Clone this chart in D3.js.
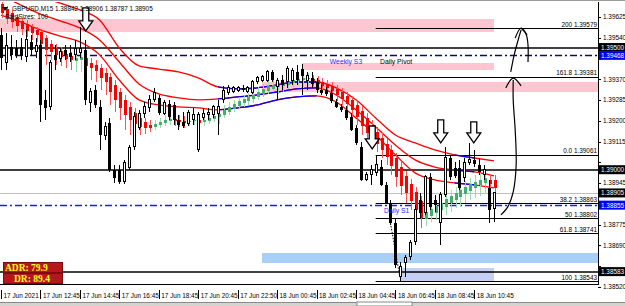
<!DOCTYPE html>
<html>
<head>
<meta charset="utf-8">
<script src="https://cdnjs.cloudflare.com/ajax/libs/d3/7.8.5/d3.min.js"></script>
<style>
  body { margin: 0; background: #fff; }
  svg { display: block; font-family: "Liberation Sans", Arial, sans-serif; }
</style>
</head>
<body>
<div id="chart"></div>
<script>
// ---- data: GBPUSD M15, one bar per index ----
const symbol = "GBPUSD,M15";
const stepSizes = 100;

const open = [
  1.39551,1.39437,1.39502,1.39498,1.39502,1.39465,1.39523,1.39482,1.39510,1.39286,
  1.39257,1.39470,1.39457,1.39490,1.39478,1.39470,1.39478,1.39490,1.39277,1.39326,
  1.39257,1.39142,1.39191,1.38999,1.38999,1.38950,1.39011,1.39093,1.39171,1.39232,
  1.39253,1.39286,1.39294,1.39232,1.39269,1.39265,1.39204,1.39196,1.39191,1.39204,
  1.39081,1.39212,1.39224,1.39224,1.39232,1.39286,1.39314,1.39322,1.39326,1.39335,
  1.39322,1.39318,1.39359,1.39367,1.39367,1.39400,1.39339,1.39367,1.39359,1.39367,
  1.39400,1.39412,1.39367,1.39376,1.39359,1.39326,1.39326,1.39314,1.39277,1.39257,
  1.39245,1.39216,1.39171,1.39093,1.38962,1.38979,1.38987,1.39011,1.38938,1.38864,
  1.38782,1.38562,1.38619,1.38643,1.38705,1.38877,1.38823,1.38971,1.38877,1.38782,
  1.38897,1.39048,1.39007,1.39007,1.38967,1.39028,1.39040,1.39020,1.38979,1.38926,
  1.38842];
const high = [
  1.39580,1.39560,1.39551,1.39531,1.39539,1.39572,1.39551,1.39539,1.39531,1.39326,
  1.39449,1.39510,1.39498,1.39510,1.39510,1.39531,1.39584,1.39531,1.39335,1.39347,
  1.39286,1.39196,1.39212,1.39020,1.39020,1.39040,1.39101,1.39236,1.39245,1.39277,
  1.39306,1.39335,1.39306,1.39286,1.39286,1.39277,1.39224,1.39236,1.39245,1.39253,
  1.39236,1.39253,1.39253,1.39265,1.39286,1.39343,1.39347,1.39343,1.39343,1.39347,
  1.39343,1.39367,1.39384,1.39388,1.39408,1.39408,1.39376,1.39388,1.39425,1.39416,
  1.39429,1.39433,1.39400,1.39400,1.39376,1.39347,1.39339,1.39326,1.39290,1.39269,
  1.39261,1.39232,1.39183,1.39114,1.38991,1.39020,1.39061,1.39040,1.38950,1.38877,
  1.38803,1.38623,1.38652,1.38713,1.38856,1.38905,1.38979,1.38987,1.38897,1.38909,
  1.39093,1.39061,1.39032,1.39040,1.39048,1.39110,1.39081,1.39048,1.39020,1.38958,
  1.38906];
const low = [
  1.39408,1.39408,1.39449,1.39457,1.39449,1.39441,1.39470,1.39457,1.39196,1.39204,
  1.39245,1.39408,1.39441,1.39449,1.39441,1.39449,1.39457,1.39265,1.39236,1.39253,
  1.39081,1.39122,1.38991,1.38946,1.38942,1.38942,1.38999,1.39081,1.39163,1.39212,
  1.39236,1.39277,1.39224,1.39224,1.39204,1.39183,1.39163,1.39171,1.39179,1.39183,
  1.39073,1.39204,1.39204,1.39212,1.39142,1.39273,1.39306,1.39314,1.39318,1.39318,
  1.39314,1.39310,1.39351,1.39359,1.39359,1.39359,1.39286,1.39326,1.39335,1.39347,
  1.39347,1.39306,1.39326,1.39335,1.39314,1.39306,1.39302,1.39273,1.39253,1.39236,
  1.39204,1.39159,1.39101,1.38954,1.38954,1.38938,1.38975,1.38934,1.38860,1.38774,
  1.38598,1.38543,1.38562,1.38631,1.38692,1.38803,1.38815,1.38836,1.38827,1.38692,
  1.38889,1.38958,1.38967,1.38917,1.38950,1.39020,1.39011,1.38979,1.38958,1.38782,
  1.38787];
const close = [
  1.39457,1.39510,1.39470,1.39470,1.39465,1.39531,1.39490,1.39510,1.39265,1.39253,
  1.39437,1.39449,1.39482,1.39470,1.39461,1.39498,1.39498,1.39286,1.39322,1.39265,
  1.39142,1.39175,1.38999,1.38967,1.38950,1.39028,1.39089,1.39216,1.39232,1.39257,
  1.39286,1.39318,1.39232,1.39277,1.39216,1.39204,1.39183,1.39179,1.39236,1.39224,
  1.39224,1.39232,1.39236,1.39257,1.39257,1.39326,1.39335,1.39335,1.39335,1.39326,
  1.39335,1.39359,1.39376,1.39380,1.39400,1.39367,1.39367,1.39347,1.39416,1.39408,
  1.39367,1.39384,1.39384,1.39351,1.39326,1.39314,1.39310,1.39281,1.39257,1.39245,
  1.39212,1.39163,1.39110,1.38958,1.38979,1.38999,1.39020,1.38938,1.38864,1.38782,
  1.38611,1.38602,1.38639,1.38701,1.38836,1.38823,1.38971,1.38848,1.38856,1.38897,
  1.39048,1.38971,1.38975,1.38926,1.39028,1.39040,1.39024,1.38991,1.38999,1.38836,
  1.38905];

// smoothed heiken ashi overlay (red / green bars)
const haOpen = [
  1.39678,1.39658,1.39641,1.39625,1.39609,1.39596,1.39584,1.39572,1.39564,1.39539,
  1.39515,1.39498,1.39486,1.39474,1.39465,1.39445,1.39449,1.39457,1.39437,1.39429,
  1.39416,1.39396,1.39380,1.39347,1.39318,1.39286,1.39257,1.39232,1.39212,1.39196,
  1.39183,1.39175,1.39183,1.39191,1.39200,1.39208,1.39204,1.39200,1.39196,1.39200,
  1.39204,1.39196,1.39200,1.39208,1.39216,1.39224,1.39236,1.39249,1.39261,1.39273,
  1.39281,1.39290,1.39298,1.39310,1.39322,1.39331,1.39339,1.39343,1.39347,1.39355,
  1.39363,1.39367,1.39371,1.39371,1.39367,1.39359,1.39351,1.39343,1.39331,1.39318,
  1.39302,1.39286,1.39265,1.39241,1.39212,1.39179,1.39155,1.39130,1.39106,1.39081,
  1.39048,1.39011,1.38975,1.38942,1.38909,1.38872,1.38799,1.38811,1.38823,1.38836,
  1.38848,1.38864,1.38877,1.38889,1.38901,1.38913,1.38926,1.38938,1.38946,1.38958,
  1.38958];
const haClose = [
  1.39641,1.39621,1.39605,1.39588,1.39576,1.39568,1.39560,1.39551,1.39515,1.39490,
  1.39482,1.39470,1.39461,1.39453,1.39449,1.39457,1.39461,1.39425,1.39416,1.39404,
  1.39376,1.39359,1.39318,1.39286,1.39253,1.39224,1.39204,1.39187,1.39175,1.39171,
  1.39171,1.39187,1.39196,1.39204,1.39208,1.39200,1.39196,1.39191,1.39200,1.39204,
  1.39191,1.39204,1.39212,1.39220,1.39228,1.39245,1.39257,1.39269,1.39281,1.39290,
  1.39298,1.39306,1.39318,1.39331,1.39343,1.39347,1.39347,1.39351,1.39363,1.39367,
  1.39371,1.39376,1.39376,1.39363,1.39351,1.39343,1.39335,1.39322,1.39306,1.39290,
  1.39269,1.39245,1.39216,1.39179,1.39151,1.39126,1.39106,1.39081,1.39052,1.39016,
  1.38971,1.38934,1.38905,1.38872,1.38836,1.38803,1.38827,1.38840,1.38852,1.38864,
  1.38881,1.38893,1.38905,1.38917,1.38930,1.38942,1.38950,1.38958,1.38967,1.38942,
  1.38926];
const haHigh = [
  1.39686,1.39670,1.39654,1.39637,1.39621,1.39613,1.39596,1.39584,1.39576,1.39551,
  1.39531,1.39515,1.39502,1.39490,1.39482,1.39474,1.39482,1.39470,1.39457,1.39449,
  1.39433,1.39416,1.39396,1.39367,1.39335,1.39306,1.39277,1.39253,1.39232,1.39212,
  1.39204,1.39204,1.39212,1.39224,1.39228,1.39228,1.39224,1.39220,1.39220,1.39224,
  1.39228,1.39220,1.39228,1.39236,1.39245,1.39265,1.39277,1.39286,1.39298,1.39306,
  1.39314,1.39326,1.39339,1.39351,1.39363,1.39367,1.39367,1.39371,1.39384,1.39392,
  1.39396,1.39400,1.39396,1.39388,1.39384,1.39376,1.39367,1.39359,1.39347,1.39335,
  1.39318,1.39302,1.39286,1.39261,1.39232,1.39204,1.39175,1.39151,1.39126,1.39101,
  1.39069,1.39032,1.38995,1.38962,1.38930,1.38893,1.38856,1.38864,1.38877,1.38889,
  1.38905,1.38917,1.38930,1.38942,1.38954,1.38967,1.38979,1.38987,1.38995,1.38979,
  1.38979];
const haLow = [
  1.39621,1.39596,1.39580,1.39564,1.39551,1.39543,1.39531,1.39523,1.39449,1.39429,
  1.39449,1.39429,1.39425,1.39416,1.39408,1.39400,1.39400,1.39376,1.39367,1.39359,
  1.39326,1.39306,1.39265,1.39236,1.39204,1.39163,1.39142,1.39151,1.39142,1.39146,
  1.39155,1.39163,1.39171,1.39179,1.39183,1.39179,1.39175,1.39171,1.39179,1.39183,
  1.39163,1.39179,1.39187,1.39196,1.39187,1.39212,1.39224,1.39236,1.39249,1.39257,
  1.39265,1.39273,1.39286,1.39298,1.39310,1.39318,1.39310,1.39318,1.39331,1.39339,
  1.39343,1.39335,1.39343,1.39343,1.39326,1.39318,1.39310,1.39298,1.39281,1.39265,
  1.39245,1.39212,1.39183,1.39142,1.39114,1.39089,1.39073,1.39048,1.39020,1.38979,
  1.38930,1.38897,1.38864,1.38836,1.38794,1.38762,1.38770,1.38787,1.38794,1.38803,
  1.38815,1.38827,1.38844,1.38852,1.38864,1.38877,1.38885,1.38893,1.38901,1.38893,
  1.38893];

// moving-average channel, read at every 4th bar
const chanBars  = [0,4,8,12,16,20,24,28,32,36,40,44,48,52,56,60,64,68,72,76,80,84,88,92,96,100];
const chanUpper = [1.39797,1.39744,1.39707,1.39682,1.39654,1.39613,1.39498,1.39425,1.39412,1.39400,1.39376,1.39339,1.39331,
                   1.39335,1.39347,1.39359,1.39359,1.39335,1.39286,1.39212,1.39142,1.39110,1.39081,1.39061,1.39048,1.39036];
const chanMid   = [1.39715,1.39674,1.39637,1.39609,1.39580,1.39531,1.39441,1.39351,1.39310,1.39294,1.39286,1.39290,1.39298,
                   1.39306,1.39318,1.39331,1.39335,1.39306,1.39245,1.39175,1.39101,1.39040,1.39011,1.38999,1.38991,1.38975];
const chanLower = [1.39633,1.39605,1.39572,1.39547,1.39523,1.39470,1.39367,1.39286,1.39265,1.39257,1.39253,1.39245,1.39253,
                   1.39265,1.39286,1.39298,1.39302,1.39277,1.39212,1.39142,1.39061,1.38987,1.38958,1.38946,1.38938,1.38926];
const chanUpRanges = [[44, 64], [92, 96]];

// axes
const timeTickBars = [0, 8, 16, 24, 32, 40, 48, 56, 64, 72, 80, 88, 96];
const timeLabels = ["17 Jun 2021", "17 Jun 12:45", "17 Jun 14:45", "17 Jun 16:45", "17 Jun 18:45",
  "17 Jun 20:45", "17 Jun 22:50", "18 Jun 00:45", "18 Jun 02:45", "18 Jun 04:45",
  "18 Jun 06:45", "18 Jun 08:45", "18 Jun 10:45"];
const priceTicks = [1.39625, 1.39540, 1.39455, 1.39370, 1.39285, 1.39200, 1.39115,
  1.39030, 1.38945, 1.38860, 1.38775, 1.38690, 1.38605, 1.38520];

// fibonacci from swing high (bar 76) to swing low (bar 81)
const fibStartBar = 76;
const fibLevels = ["0.0", "38.2", "50", "61.8", "100", "161.8", "200"];
const fibPrices = [1.39061, 1.38863, 1.38802, 1.38741, 1.38543, 1.39381, 1.39579];

// horizontal levels
const levelPrices = [1.39500, 1.39000, 1.38583];
const pivotPrices = [1.39468, 1.38855];
const pivotNames = [["Weekly S3", "Daily Pivot"], ["Daily S1"]];

// supply / demand zones: bar range and price range
const zones = [
  {kind: "supply", from: -1, to: 100, top: 1.39617, bottom: 1.39564},
  {kind: "supply", from: 61, to: 100, top: 1.39437, bottom: 1.39408},
  {kind: "supply", from: 53, to: 122, top: 1.39359, bottom: 1.39318},
  {kind: "demand", from: 53, to: 122, top: 1.38660, bottom: 1.38619},
  {kind: "demandLow", from: 81, to: 100, top: 1.38598, bottom: 1.38545}
];

// hand-drawn annotations (bar, price)
const downArrows = [
  {bar: 17.2, top: 1.39662, tip: 1.39568},
  {bar: 75.3, top: 1.39179, tip: 1.39085},
  {bar: 89.2, top: 1.39204, tip: 1.39110},
  {bar: 95.9, top: 1.39196, tip: 1.39110}
];
const sketchStrokes = [
  [[101.4,1.38815],[102.8,1.38848],[103.9,1.38909],[104.5,1.39020],[104.3,1.39163],[103.9,1.39286],[103.9,1.39367]],
  [[102.4,1.39335],[103.9,1.39375],[105.5,1.39343]],
  [[103.4,1.39400],[104.1,1.39470],[104.9,1.39531],[105.5,1.39572]],
  [[104.3,1.39539],[105.5,1.39580],[106.7,1.39551]],
  [[105.5,1.39580],[106.5,1.39555],[106.9,1.39511],[106.9,1.39441]]
];
const dottedLine = [[78.9, 1.38794], [80.9, 1.38562]];

const adr = 79.9, dr = 89.4;

// ---- layout ----
const W = 625, H = 306;
const plotRight = 598, plotTop = 2, plotBottom = 284;

const x = d3.scaleLinear().domain([0, 121.1]).range([1, plotRight]);
const y = d3.scaleLinear().domain([1.38520, 1.39625]).range([287, 17]);
const px = v => Math.round(v);
const crisp = v => Math.round(v) + 0.5;

const svg = d3.select("#chart").append("svg")
    .attr("width", W)
    .attr("height", H);

svg.append("rect").attr("width", W).attr("height", H).attr("fill", "#fff");

const defs = svg.append("defs");
defs.append("clipPath").attr("id", "plot")
    .append("rect")
    .attr("x", 0).attr("y", plotTop)
    .attr("width", plotRight).attr("height", plotBottom - plotTop);

// clip for the up-trend (blue) parts of the channel
defs.append("clipPath").attr("id", "upClip")
    .selectAll("rect")
    .data(chanUpRanges).enter()
    .append("rect")
    .attr("x", d => x(d[0]))
    .attr("width", d => x(d[1]) - x(d[0]))
    .attr("y", 0).attr("height", H);

const chart = svg.append("g").attr("clip-path", "url(#plot)");

// zones
const zoneFill = {supply: "#ffc6d2", demand: "#a8d0f6", demandLow: "#c6cff4"};
chart.append("g")
    .selectAll("rect")
    .data(zones).enter()
    .append("rect")
    .attr("x", d => px(x(d.from)))
    .attr("width", d => px(x(d.to)) - px(x(d.from)))
    .attr("y", d => px(y(d.top)))
    .attr("height", d => px(y(d.bottom)) - px(y(d.top)))
    .attr("fill", d => zoneFill[d.kind]);

// ADR box sits under the level lines
const adrG = svg.append("g");
[["ADR: " + adr.toFixed(1), 262, 5], ["DR: " + dr.toFixed(1), 273, 14]].forEach(([t, top, tx]) => {
    adrG.append("rect")
        .attr("x", 3.5).attr("y", top + 0.5)
        .attr("width", 59).attr("height", 10)
        .attr("fill", "#b5171c").attr("stroke", "#7a0d10");
    adrG.append("text")
        .attr("x", tx).attr("y", top + 9)
        .attr("font-family", "'Liberation Serif', 'DejaVu Serif', serif")
        .attr("font-weight", "bold")
        .attr("font-size", 9.5)
        .attr("fill", "#ffff20")
        .text(t);
});

// bid line
chart.append("line")
    .attr("x1", 0).attr("x2", plotRight)
    .attr("y1", crisp(y(close[close.length - 1]))).attr("y2", crisp(y(close[close.length - 1])))
    .attr("stroke", "#c0c0c0");

// fib lines
chart.append("g")
    .selectAll("line")
    .data(fibPrices).enter()
    .append("line")
    .attr("x1", x(fibStartBar)).attr("x2", plotRight)
    .attr("y1", d => crisp(y(d))).attr("y2", d => crisp(y(d)))
    .attr("stroke", "#000").attr("stroke-width", 1.2);

// level lines
chart.append("g")
    .selectAll("line")
    .data(levelPrices).enter()
    .append("line")
    .attr("x1", 0).attr("x2", plotRight)
    .attr("y1", d => px(y(d))).attr("y2", d => px(y(d)))
    .attr("stroke", "#000").attr("stroke-width", 1.6);

// pivot lines (dash-dot)
chart.append("g")
    .selectAll("line")
    .data(pivotPrices).enter()
    .append("line")
    .attr("x1", 0).attr("x2", plotRight)
    .attr("y1", d => crisp(y(d))).attr("y2", d => crisp(y(d)))
    .attr("stroke", (d, i) => i === 0 ? "#0a0a60" : "#1a1aff")
    .attr("stroke-width", 1.3)
    .attr("stroke-dasharray", "7,3,2,3");

// channel lines
const chanPath = vals => d3.line()
    .x((d, i) => x(chanBars[i]))
    .y(d => y(d))
    .curve(d3.curveMonotoneX)(vals);
const chanG = chart.append("g").attr("fill", "none").attr("stroke-width", 1.3);
[chanUpper, chanMid, chanLower].forEach(vals => {
    chanG.append("path").attr("d", chanPath(vals)).attr("stroke", "#ff0000");
    chanG.append("path").attr("d", chanPath(vals)).attr("stroke", "#0000ff")
        .attr("clip-path", "url(#upClip)");
});

const bars = d3.range(open.length);

// heiken ashi overlay
const haUp = i => haClose[i] >= haOpen[i];
const haG = chart.append("g").attr("shape-rendering", "crispEdges");
haG.selectAll("line")
    .data(bars).enter()
    .append("line")
    .attr("x1", i => crisp(x(i)) + 1).attr("x2", i => crisp(x(i)) + 1)
    .attr("y1", i => y(haHigh[i])).attr("y2", i => y(haLow[i]))
    .attr("stroke", i => haUp(i) ? "#9cd9ae" : "#ff5050");
haG.selectAll("rect")
    .data(bars).enter()
    .append("rect")
    .attr("x", i => px(x(i)))
    .attr("width", 3)
    .attr("y", i => y(Math.max(haOpen[i], haClose[i])))
    .attr("height", i => Math.max(1.5, Math.abs(y(haOpen[i]) - y(haClose[i]))))
    .attr("fill", i => haUp(i) ? "#3fb268" : "#ff0000");

// main candles
const candleG = chart.append("g").attr("shape-rendering", "crispEdges");
candleG.selectAll("line")
    .data(bars).enter()
    .append("line")
    .attr("x1", i => crisp(x(i))).attr("x2", i => crisp(x(i)))
    .attr("y1", i => y(high[i])).attr("y2", i => y(low[i]))
    .attr("stroke", "#000");
candleG.selectAll("rect")
    .data(bars).enter()
    .append("rect")
    .attr("x", i => close[i] >= open[i] ? px(x(i)) - 0.5 : px(x(i)) - 1)
    .attr("width", i => close[i] >= open[i] ? 2 : 3)
    .attr("y", i => y(Math.max(open[i], close[i])))
    .attr("height", i => Math.max(1, Math.abs(y(open[i]) - y(close[i]))))
    .attr("fill", i => close[i] >= open[i] ? "#fff" : "#000")
    .attr("stroke", i => close[i] >= open[i] ? "#000" : "none");

// hand-drawn arrows
const arrowG = chart.append("g");
arrowG.selectAll("path")
    .data(downArrows).enter()
    .append("path")
    .attr("d", d => {
        const cx = x(d.bar), t = y(d.top), b = y(d.tip), h = b - 10;
        return `M${cx - 3},${t} L${cx + 3},${t} L${cx + 3},${h} L${cx + 7},${h} L${cx},${b} L${cx - 7},${h} L${cx - 3},${h} Z`;
    })
    .attr("fill", "#fff")
    .attr("stroke", "#000")
    .attr("stroke-width", 1.3)
    .attr("stroke-linejoin", "miter");

const sketchLine = d3.line().x(d => x(d[0])).y(d => y(d[1])).curve(d3.curveCatmullRom);
chart.append("g")
    .selectAll("path")
    .data(sketchStrokes).enter()
    .append("path")
    .attr("d", sketchLine)
    .attr("fill", "none")
    .attr("stroke", "#000")
    .attr("stroke-width", 1.2);

chart.append("path")
    .attr("d", d3.line().x(d => x(d[0])).y(d => y(d[1]))(dottedLine))
    .attr("stroke", "#000")
    .attr("stroke-dasharray", "1.5,1.5");

// texts on chart
const small = 6.4;
chart.append("g")
    .selectAll("text")
    .data(fibPrices).enter()
    .append("text")
    .attr("x", plotRight - 1)
    .attr("y", d => y(d) - 1.5)
    .attr("text-anchor", "end")
    .attr("font-size", small)
    .text((d, i) => `${fibLevels[i]} ${d.toFixed(5)}`);

chart.append("text").attr("x", x(66.7)).attr("y", y(pivotPrices[0]) + 9)
    .attr("font-size", small + 0.4).attr("fill", "#2a2aff").text(pivotNames[0][0]);
chart.append("text").attr("x", x(76.9)).attr("y", y(pivotPrices[0]) + 9)
    .attr("font-size", small + 0.4).attr("fill", "#000").text(pivotNames[0][1]);
chart.append("text").attr("x", x(77.7)).attr("y", y(pivotPrices[1]) + 8)
    .attr("font-size", small + 0.4).attr("fill", "#2a2aff").text(pivotNames[1][0]);

// header
const last = open.length - 1;
svg.append("path").attr("d", "M2,7 L8,7 L5,11 Z").attr("fill", "#000");
svg.append("text").attr("x", 12).attr("y", 11).attr("font-size", small)
    .text(`${symbol}  ${open[last].toFixed(5)} ${high[last].toFixed(5)} ${low[last].toFixed(5)} ${close[last].toFixed(5)}`);
svg.append("text").attr("x", 5).attr("y", 19).attr("font-size", small)
    .text(`StepSizes: ${stepSizes}`);

// frame
svg.append("line").attr("x1", 0).attr("x2", W).attr("y1", 0.5).attr("y2", 0.5).attr("stroke", "#9a9a9a");
svg.append("line").attr("x1", crisp(plotRight)).attr("x2", crisp(plotRight))
    .attr("y1", plotTop).attr("y2", plotBottom + 1).attr("stroke", "#000");
svg.append("line").attr("x1", 0).attr("x2", plotRight + 1)
    .attr("y1", plotBottom + 0.5).attr("y2", plotBottom + 0.5).attr("stroke", "#000");

// price boxes (levels, pivots and bid)
const boxes = [
    ...levelPrices.map(p => ({p, fill: "#000"})),
    ...pivotPrices.map(p => ({p, fill: "#0000ff"})),
    {p: close[last], fill: "#000"}
];

// price axis: ticks hidden behind a box are not drawn, as in the terminal
const visibleTicks = priceTicks.filter(t => boxes.every(b => Math.abs(y(b.p) - y(t)) > 8));
const yAxisG = svg.append("g");
yAxisG.selectAll("line")
    .data(priceTicks).enter()
    .append("line")
    .attr("x1", plotRight).attr("x2", plotRight + 3)
    .attr("y1", d => crisp(y(d))).attr("y2", d => crisp(y(d)))
    .attr("stroke", "#000");
yAxisG.selectAll("text")
    .data(visibleTicks).enter()
    .append("text")
    .attr("x", plotRight + 5)
    .attr("y", d => y(d) + 2.3)
    .attr("font-size", small)
    .text(d => d.toFixed(5));

const boxG = svg.append("g");
boxes.forEach(b => {
    const yy = y(b.p);
    boxG.append("rect").attr("x", plotRight + 1).attr("y", yy - 4.5)
        .attr("width", W - plotRight - 1).attr("height", 9).attr("fill", b.fill);
    boxG.append("text").attr("x", plotRight + 3).attr("y", yy + 2.4)
        .attr("font-size", small).attr("fill", "#fff").text(b.p.toFixed(5));
});

// time axis
const xAxisG = svg.append("g");
xAxisG.selectAll("line")
    .data(timeTickBars).enter()
    .append("line")
    .attr("x1", d => crisp(x(d))).attr("x2", d => crisp(x(d)))
    .attr("y1", 290).attr("y2", 299)
    .attr("stroke", "#000");
xAxisG.selectAll("text")
    .data(timeTickBars).enter()
    .append("text")
    .attr("x", d => x(d) + 2.5)
    .attr("y", 297.5)
    .attr("font-size", small)
    .text((d, i) => timeLabels[i]);

// bottom tab strip
svg.append("rect").attr("x", 0).attr("y", 302).attr("width", W).attr("height", 4).attr("fill", "#d6d3ce");
svg.append("line").attr("x1", 0).attr("x2", W).attr("y1", 302.5).attr("y2", 302.5).attr("stroke", "#8a8a8a");
svg.append("rect").attr("x", 357).attr("y", 302).attr("width", 55).attr("height", 4).attr("fill", "#fff").attr("stroke", "#8a8a8a");
</script>
</body>
</html>
